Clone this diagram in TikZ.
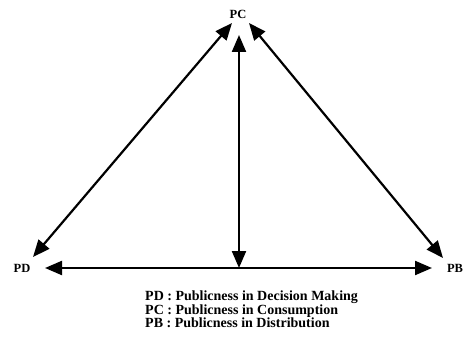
\documentclass[tikz,border=0pt]{standalone}
\usepackage{fontspec}
\setmainfont{Liberation Serif}
\usetikzlibrary{arrows.meta}
\begin{document}
\begin{tikzpicture}[x=1pt,y=-1pt,
  lbl/.style={font=\bfseries\fontsize{12.5}{12}\selectfont, inner sep=0pt},
  conn/.style={line width=2.2pt, {Triangle[length=17pt,width=14pt]}-{Triangle[length=17pt,width=14pt]}},
  legend/.style={font=\bfseries\fontsize{14}{12.5}\selectfont, inner sep=0pt, align=left, anchor=north west}]
\useasboundingbox (0,0) rectangle (464,345);
\node[lbl] (pc) at (238,14) {PC};
\node[lbl] (pd) at (22,268) {PD};
\node[lbl] (pb) at (455,268) {PB};
\coordinate (pcl) at (232,23);
\coordinate (pcr) at (249,23);
\coordinate (pcm) at (239,35);
\coordinate (pdt) at (33,257);
\coordinate (pbt) at (443,258);
\coordinate (hl) at (45,268);
\coordinate (hr) at (432,268);
\coordinate (hm) at (239,268);
\draw[conn] (pcl) -- (pdt);
\draw[conn] (pcr) -- (pbt);
\draw[conn] (hl) -- (hr);
\draw[conn] (pcm) -- (hm);
\node[legend] (leg) at (145,290.5) {PD : Publicness in Decision Making\\PC : Publicness in Consumption\\PB : Publicness in Distribution};
\end{tikzpicture}
\end{document}
